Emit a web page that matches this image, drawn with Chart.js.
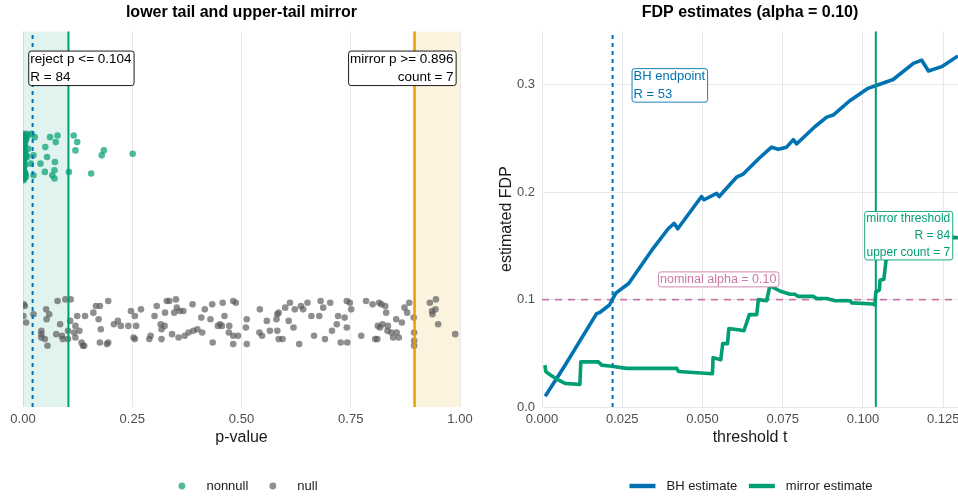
<!DOCTYPE html>
<html>
<head>
<meta charset="utf-8">
<script src="https://cdn.jsdelivr.net/npm/chart.js@4.4.1/dist/chart.umd.min.js"></script>
<style>
  html, body { margin: 0; padding: 0; background: #fff; }
  #wrap { position: relative; width: 958px; height: 498px; }
  canvas { position: absolute; top: 0; }
  #left { left: 0; }
  #right { left: 479px; }
</style>
</head>
<body>
<div id="wrap">
  <canvas id="left" width="479" height="498"></canvas>
  <canvas id="right" width="479" height="498"></canvas>
</div>
<script>
// p-values, with the vertical jitter used to spread each strip
const nonnullP = [
  0.0003, 0.0008, 0.0012, 0.0005, 0.0020, 0.0015, 0.0030, 0.0009, 0.0041, 0.0002,
  0.0025, 0.0050, 0.0011, 0.0034, 0.0006, 0.0018, 0.0062, 0.0028, 0.0004, 0.0045,
  0.0013, 0.0072, 0.0022, 0.0008, 0.0038, 0.0016, 0.0055, 0.0001, 0.0031, 0.0085,
  0.0019, 0.0047, 0.0007, 0.0026, 0.0098, 0.0014, 0.0067, 0.0036, 0.0003, 0.0110,
  0.0021, 0.0058, 0.0010, 0.0043, 0.0079, 0.0024, 0.0120,
  0.020, 0.027, 0.062, 0.079, 0.075, 0.051, 0.116, 0.124, 0.120, 0.185,
  0.180, 0.251, 0.024, 0.055, 0.040, 0.073, 0.018, 0.024, 0.050, 0.072,
  0.067, 0.072, 0.105, 0.156
];
const nonnullJit = [
  0.12, -0.08, 0.05, -0.14, 0.10, -0.02, 0.08, 0.13, -0.11, 0.01,
  -0.05, 0.11, 0.07, -0.13, 0.03, -0.09, 0.09, 0.12, -0.03, 0.06,
  -0.12, 0.00, 0.04, -0.07, 0.10, -0.15, 0.02, 0.08, -0.10, 0.13,
  -0.04, -0.06, 0.11, 0.05, -0.01, 0.09, -0.13, 0.07, -0.08, 0.12,
  0.03, -0.11, 0.06, -0.02, 0.10, -0.14, 0.04,
  0.13, 0.11, 0.11, 0.12, 0.08, 0.05, 0.12, 0.08, 0.03, 0.03,
  0.00, 0.01, 0.00, -0.01, -0.05, -0.04, -0.05, -0.12, -0.10, -0.09,
  -0.12, -0.14, -0.10, -0.11
];
const nullP = [
  0.002, 0.004, 0.001, 0.007, 0.024, 0.053, 0.060, 0.054, 0.042, 0.042,
  0.042, 0.050, 0.056, 0.079, 0.085, 0.076, 0.089, 0.091, 0.097, 0.109,
  0.108, 0.103, 0.103, 0.120, 0.117, 0.129, 0.120, 0.134, 0.137, 0.140,
  0.124, 0.142, 0.161, 0.167, 0.176, 0.173, 0.178, 0.176, 0.192, 0.195,
  0.195, 0.208, 0.217, 0.224, 0.241, 0.247, 0.256, 0.259, 0.253, 0.256,
  0.270, 0.289, 0.292, 0.301, 0.306, 0.315, 0.317, 0.317, 0.325, 0.324,
  0.329, 0.335, 0.341, 0.346, 0.350, 0.352, 0.356, 0.359, 0.367, 0.370,
  0.379, 0.388, 0.390, 0.399, 0.410, 0.408, 0.416, 0.429, 0.433, 0.434,
  0.446, 0.451, 0.455, 0.457, 0.461, 0.471, 0.472, 0.481, 0.487, 0.481,
  0.481, 0.492, 0.512, 0.510, 0.512, 0.542, 0.541, 0.547, 0.558, 0.565,
  0.582, 0.585, 0.580, 0.582, 0.585, 0.594, 0.600, 0.608, 0.611, 0.619,
  0.622, 0.632, 0.636, 0.641, 0.651, 0.660, 0.666, 0.678, 0.681, 0.687,
  0.691, 0.703, 0.707, 0.718, 0.721, 0.727, 0.736, 0.741, 0.742, 0.741,
  0.748, 0.751, 0.774, 0.785, 0.800, 0.806, 0.811, 0.812, 0.815, 0.820,
  0.823, 0.817, 0.829, 0.831, 0.834, 0.835, 0.843, 0.847, 0.854, 0.860,
  0.855, 0.867, 0.873, 0.879, 0.884, 0.895, 0.895, 0.895, 0.894, 0.931,
  0.936, 0.937, 0.944, 0.945, 0.950, 0.989
];
const nullJit = [
  0.10, 0.09, 0.03, -0.01, 0.04, 0.07, 0.04, 0.01, -0.06, -0.08,
  -0.10, -0.11, -0.15, 0.12, -0.02, -0.08, -0.09, -0.11, 0.13, 0.13,
  0.00, -0.06, -0.11, -0.03, -0.07, -0.06, -0.10, -0.13, -0.15, -0.15,
  0.03, 0.03, 0.05, 0.09, 0.09, 0.01, -0.05, -0.13, -0.14, -0.13,
  0.12, -0.02, 0.00, -0.03, -0.03, 0.06, 0.03, -0.03, -0.10, -0.11,
  0.07, -0.11, -0.09, 0.03, 0.09, -0.02, -0.05, -0.11, 0.05, -0.03,
  0.12, 0.12, -0.08, 0.05, 0.13, 0.08, -0.10, 0.06, 0.06, -0.09,
  -0.07, 0.10, -0.06, -0.05, -0.07, 0.02, 0.07, 0.01, 0.10, -0.13,
  -0.03, -0.02, -0.03, 0.11, 0.03, -0.07, -0.03, 0.12, 0.11, -0.14,
  -0.09, -0.09, 0.01, -0.04, -0.14, 0.07, -0.07, -0.09, 0.00, -0.06,
  0.04, 0.05, 0.01, -0.06, -0.11, -0.11, 0.08, 0.00, 0.11, -0.04,
  0.07, -0.14, 0.09, 0.07, 0.11, 0.03, -0.09, 0.03, 0.12, 0.08,
  -0.11, 0.11, -0.06, -0.02, 0.03, -0.13, 0.02, -0.04, -0.13, 0.12,
  0.11, 0.07, -0.09, 0.12, 0.10, -0.11, -0.11, -0.03, 0.11, 0.10,
  -0.02, -0.04, 0.09, 0.05, -0.06, -0.03, -0.07, -0.10, 0.01, -0.10,
  -0.07, -0.01, 0.08, 0.05, 0.11, -0.12, -0.15, -0.07, 0.02, 0.11,
  0.06, 0.04, 0.07, 0.13, -0.02, -0.08
];

// thresholds
const bhCut = 0.022;
const mirrorCut = 0.104;
const upperCut = 0.896;
const alpha = 0.10;

// FDP estimate curves over the threshold t
const bhT = [0.001, 0.007, 0.017, 0.018, 0.021, 0.023, 0.027, 0.0347, 0.0393, 0.0412,
  0.0423, 0.0497, 0.0505, 0.0544, 0.0552, 0.0606, 0.0627, 0.0674, 0.0715, 0.0736,
  0.0762, 0.0783, 0.0793, 0.0850, 0.0887, 0.0908, 0.0958, 0.1017, 0.1037, 0.1094,
  0.1157, 0.1183, 0.1204, 0.1245, 0.1296, 0.1320];
const bhFdp = [0.010, 0.038, 0.087, 0.088, 0.095, 0.106, 0.115, 0.148, 0.166, 0.171,
  0.166, 0.196, 0.193, 0.199, 0.196, 0.214, 0.217, 0.231, 0.242, 0.240,
  0.242, 0.249, 0.245, 0.261, 0.270, 0.272, 0.285, 0.297, 0.299, 0.305,
  0.320, 0.323, 0.313, 0.317, 0.327, 0.330];
const mirT = [0.0009, 0.0012, 0.0025, 0.0046, 0.0072, 0.0118, 0.0121, 0.0176, 0.0186, 0.0217,
  0.0264, 0.0420, 0.0425, 0.0531, 0.0533, 0.0557, 0.0563, 0.0578, 0.0582, 0.0612,
  0.0629, 0.0646, 0.0669, 0.0674, 0.0700, 0.0710, 0.0741, 0.0773, 0.0788, 0.0798,
  0.0845, 0.0856, 0.0887, 0.0913, 0.0960, 0.0965, 0.1032, 0.1037, 0.1040, 0.1051,
  0.1053, 0.1065, 0.1072, 0.1074, 0.1080, 0.1100, 0.1150, 0.1200, 0.1285, 0.1320];
const mirFdp = [0.039, 0.033, 0.030, 0.026, 0.022, 0.021, 0.042, 0.042, 0.039, 0.038,
  0.036, 0.036, 0.033, 0.031, 0.046, 0.044, 0.059, 0.059, 0.073, 0.072,
  0.071, 0.086, 0.086, 0.100, 0.099, 0.113, 0.108, 0.105, 0.105, 0.103,
  0.103, 0.101, 0.101, 0.099, 0.099, 0.097, 0.096, 0.095, 0.107, 0.109,
  0.118, 0.119, 0.137, 0.143, 0.150, 0.153, 0.155, 0.157, 0.158, 0.157];

const BLUE = '#0072B2', GREEN = '#009E73', ORANGE = '#E69F00', PINK = '#CC79A7';
const FONT = '"Liberation Sans", Arial, Helvetica, sans-serif';
const GRID = '#e8e8e8';

Chart.defaults.font.family = FONT;
Chart.defaults.color = '#4d4d4d';

const pairs = (xs, ys, base) => xs.map((x, i) => ({ x, y: (base || 0) + ys[i] }));
const vline = (x, lo, hi) => [{ x, y: lo }, { x, y: hi }];

// boxed text annotations placed in data coordinates
function drawNote(ctx, px, py, n) {
  ctx.save();
  ctx.font = n.size + 'px ' + FONT;
  const lineH = n.size + 5;
  const widths = n.lines.map(t => ctx.measureText(t).width);
  const w = Math.max(...widths) + 4;
  const h = (n.lines.length - 1) * lineH + n.size + 2.5;
  const left = n.anchor === 'right' ? px - w : n.anchor === 'center' ? px - w / 2 : px;
  const top = n.anchor === 'center' ? py - h / 2 : py;
  ctx.beginPath();
  ctx.roundRect(left + 0.5, top + 0.5, w, h, 2.5);
  ctx.fillStyle = '#fff';
  ctx.fill();
  ctx.lineWidth = 0.9;
  ctx.strokeStyle = n.color;
  ctx.stroke();
  ctx.fillStyle = n.color;
  ctx.textBaseline = 'middle';
  n.lines.forEach((t, i) => {
    const tx = n.anchor === 'right' ? left + w - 2 - widths[i] : left + 2;
    ctx.fillText(t, tx, top + (n.size + 3) / 2 + i * lineH);
  });
  ctx.restore();
}

const notes = {
  id: 'notes',
  afterDatasetsDraw(chart, args, opts) {
    const { x, y } = chart.scales;
    (opts.items || []).forEach(n => drawNote(chart.ctx, x.getPixelForValue(n.x), y.getPixelForValue(n.y), n));
  }
};

// ggplot-like legend row under the panel
const keyLegend = {
  id: 'keyLegend',
  afterDraw(chart, args, opts) {
    const ctx = chart.ctx;
    const items = chart.data.datasets.filter(d => d.inLegend);
    ctx.save();
    ctx.font = '13px ' + FONT;
    const widths = items.map(d => ctx.measureText(d.label).width);
    let total = opts.itemGap * (items.length - 1);
    widths.forEach(w => { total += opts.keyWidth + opts.keyGap + w; });
    const area = chart.chartArea;
    let x = (area.left + area.right) / 2 - total / 2 + (opts.shift || 0);
    items.forEach((d, i) => {
      if (opts.style === 'line') {
        ctx.fillStyle = d.borderColor;
        ctx.fillRect(x, opts.y - 2.2, opts.keyWidth, 4.4);
      } else {
        ctx.beginPath();
        ctx.arc(x + opts.keyWidth / 2, opts.y, 3.4, 0, Math.PI * 2);
        ctx.fillStyle = d.backgroundColor;
        ctx.fill();
      }
      x += opts.keyWidth + opts.keyGap;
      ctx.fillStyle = '#1a1a1a';
      ctx.textBaseline = 'middle';
      ctx.fillText(d.label, x, opts.y);
      x += widths[i] + opts.itemGap;
    });
    ctx.restore();
  }
};

const noPad = s => { s.paddingLeft = 0; s.paddingRight = 0; s.paddingTop = 0; s.paddingBottom = 0; };
const titleFont = { size: 16, weight: 'bold' };

// left panel: p-value strips with rejection and mirror regions
new Chart(document.getElementById('left'), {
  type: 'scatter',
  data: {
    datasets: [
      { type: 'line', label: 'bh', data: vline(bhCut, -0.52, 1.75), borderColor: BLUE, borderWidth: 2,
        borderDash: [4, 4], pointRadius: 0, order: 0 },
      { type: 'line', label: 'lower cut', data: vline(mirrorCut, -0.52, 1.75), borderColor: GREEN, borderWidth: 2,
        pointRadius: 0, order: 0 },
      { type: 'line', label: 'upper cut', data: vline(upperCut, -0.52, 1.75), borderColor: ORANGE, borderWidth: 2.5,
        pointRadius: 0, order: 0 },
      { label: 'nonnull', data: pairs(nonnullP, nonnullJit, 1), backgroundColor: 'rgba(0,158,115,0.7)',
        borderWidth: 0, pointRadius: 3.3, order: 2, inLegend: true },
      { label: 'null', data: pairs(nullP, nullJit, 0), backgroundColor: 'rgba(90,90,90,0.68)',
        borderWidth: 0, pointRadius: 3.3, order: 3, inLegend: true },
      { type: 'line', label: 'lower band', data: [{ x: 0, y: 1.75 }, { x: mirrorCut, y: 1.75 }], fill: 'start',
        backgroundColor: 'rgba(0,158,115,0.12)', borderWidth: 0, pointRadius: 0, order: 10 },
      { type: 'line', label: 'upper band', data: [{ x: upperCut, y: 1.75 }, { x: 1, y: 1.75 }], fill: 'start',
        backgroundColor: 'rgba(230,159,0,0.13)', borderWidth: 0, pointRadius: 0, order: 10 }
    ]
  },
  options: {
    responsive: false, animation: false, events: [],
    layout: { padding: { left: 23, right: 19, top: 0, bottom: 40 } },
    scales: {
      x: {
        type: 'linear', min: 0, max: 1,
        grid: { color: GRID, lineWidth: 1, drawTicks: false },
        border: { display: false },
        ticks: { stepSize: 0.25, padding: 5, font: { size: 13 }, callback: v => v.toFixed(2) },
        title: { display: true, text: 'p-value', font: { size: 16 }, color: '#1a1a1a', padding: { top: 0, bottom: 11 } },
        afterFit: s => { s.height = 51; noPad(s); }
      },
      y: { min: -0.52, max: 1.75, display: false }
    },
    plugins: {
      legend: { display: false },
      tooltip: { enabled: false },
      title: { display: true, fullSize: false, text: 'lower tail and upper-tail mirror', font: titleFont,
        color: '#000', padding: { top: 3, bottom: 9 } },
      notes: { items: [
        { x: 0.012, y: 1.633, anchor: 'left', size: 13.5, color: '#000', lines: ['reject p <= 0.104', 'R = 84'] },
        { x: 0.990, y: 1.633, anchor: 'right', size: 13.5, color: '#000', lines: ['mirror p >= 0.896', 'count = 7'] }
      ] },
      keyLegend: { style: 'point', y: 486, keyWidth: 17, keyGap: 16, itemGap: 16, shift: 4 }
    }
  },
  plugins: [notes, keyLegend]
});

// right panel: BH and mirror FDP estimates against threshold t
new Chart(document.getElementById('right'), {
  type: 'line',
  data: {
    datasets: [
      { label: 'BH estimate', data: pairs(bhT, bhFdp), borderColor: BLUE, borderWidth: 3.6,
        pointRadius: 0, borderJoinStyle: 'round', order: 4, inLegend: true },
      { label: 'mirror estimate', data: pairs(mirT, mirFdp), borderColor: GREEN, borderWidth: 3.6,
        pointRadius: 0, borderJoinStyle: 'round', order: 3, inLegend: true },
      { label: 'nominal', data: [{ x: 0, y: alpha }, { x: 0.132, y: alpha }], borderColor: PINK, borderWidth: 1.7,
        borderDash: [7, 6], pointRadius: 0, order: 5 },
      { label: 'bh', data: vline(bhCut, 0, 0.35), borderColor: BLUE, borderWidth: 2,
        borderDash: [4, 4], pointRadius: 0, order: 1 },
      { label: 'mirror cut', data: vline(mirrorCut, 0, 0.35), borderColor: GREEN, borderWidth: 2,
        pointRadius: 0, order: 0 }
    ]
  },
  options: {
    responsive: false, animation: false, events: [],
    layout: { padding: { left: 0, right: 0, top: 0, bottom: 40 } },
    scales: {
      x: {
        type: 'linear', min: 0, max: 0.1296,
        grid: { color: GRID, lineWidth: 1, drawTicks: false },
        border: { display: false },
        ticks: { stepSize: 0.025, includeBounds: false, padding: 5, font: { size: 13 }, callback: v => v.toFixed(3) },
        title: { display: true, text: 'threshold t', font: { size: 16 }, color: '#1a1a1a', padding: { top: 0, bottom: 11 } },
        afterFit: s => { s.height = 51; noPad(s); }
      },
      y: {
        min: 0, max: 0.35,
        grid: { color: GRID, lineWidth: 1, drawTicks: false },
        border: { display: false },
        ticks: { stepSize: 0.1, includeBounds: false, padding: 7, font: { size: 13 }, callback: v => v.toFixed(1) },
        title: { display: true, text: 'estimated FDP', font: { size: 16 }, color: '#1a1a1a', padding: { top: 18, bottom: 0 } },
        afterFit: s => { s.width = 63; noPad(s); }
      }
    },
    plugins: {
      legend: { display: false },
      tooltip: { enabled: false },
      title: { display: true, fullSize: false, text: 'FDP estimates (alpha = 0.10)', font: titleFont,
        color: '#000', padding: { top: 3, bottom: 9 } },
      notes: { items: [
        { x: 0.0279, y: 0.3156, anchor: 'left', size: 13, color: BLUE, lines: ['BH endpoint', 'R = 53'] },
        { x: 0.0549, y: 0.1193, anchor: 'center', size: 12.5, color: PINK, lines: ['nominal alpha = 0.10'] },
        { x: 0.1278, y: 0.1826, anchor: 'right', size: 12, color: GREEN,
          lines: ['mirror threshold', 'R = 84', 'upper count = 7'] }
      ] },
      keyLegend: { style: 'line', y: 486, keyWidth: 26, keyGap: 11, itemGap: 11.6, shift: 1 }
    }
  },
  plugins: [notes, keyLegend]
});
</script>
</body>
</html>
